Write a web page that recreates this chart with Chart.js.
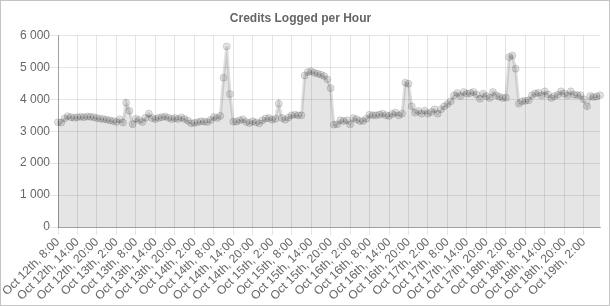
<!DOCTYPE html>
<html>
<head>
<meta charset="utf-8">
<script src="https://cdn.jsdelivr.net/npm/chart.js@4/dist/chart.umd.min.js"></script>
<style>
  html, body { margin: 0; padding: 0; background: #fff; }
  #wrap { position: relative; width: 608px; height: 304px; border: 1px solid #c4c4c4; }
  canvas { display: block; }
</style>
</head>
<body>
<div id="wrap"><canvas id="c" width="608" height="304"></canvas></div>
<script>
// Hourly time slots from Oct 12th 8:00 to Oct 19th 7:00
const days = ["Oct 12th", "Oct 13th", "Oct 14th", "Oct 15th", "Oct 16th", "Oct 17th", "Oct 18th", "Oct 19th"];
const startHour = 8;
const hourCount = 168;
const categories = [];
for (let i = 0; i < hourCount; i++) {
  const t = startHour + i;
  categories.push(days[Math.floor(t / 24)] + ", " + (t % 24) + ":00");
}

// Credits logged per hour
const credits = [
  3280, 3270, 3400, 3470, 3440, 3420, 3440, 3450, 3440, 3460,
  3450, 3440, 3410, 3390, 3380, 3360, 3340, 3320, 3290, 3370,
  3270, 3890, 3640, 3220, 3390, 3350, 3290, 3420, 3550, 3410,
  3380, 3420, 3440, 3460, 3420, 3380, 3410, 3380, 3430, 3380,
  3330, 3250, 3260, 3280, 3310, 3300, 3290, 3350, 3445, 3413,
  3476, 4675, 5656, 4164, 3299, 3299, 3340, 3372, 3290, 3257,
  3309, 3280, 3247, 3340, 3400, 3413, 3361, 3393, 3862, 3413,
  3361, 3430, 3497, 3518, 3497, 3497, 4748, 4853, 4874, 4832,
  4801, 4769, 4728, 4623, 4352, 3205, 3215, 3340, 3320, 3340,
  3215, 3413, 3372, 3320, 3320, 3393, 3518, 3497, 3497, 3520,
  3549, 3500, 3476, 3540, 3580, 3497, 3549, 4519, 4488, 3779,
  3580, 3633, 3549, 3643, 3549, 3600, 3685, 3549, 3685, 3779,
  3850, 3935, 4123, 4196, 4102, 4227, 4175, 4196, 4227, 4150,
  4018, 4175, 4100, 4039, 4227, 4123, 4080, 4039, 4050, 5322,
  5374, 4957, 3862, 3935, 3950, 3966, 4123, 4180, 4206, 4123,
  4248, 4150, 4039, 4100, 4144, 4248, 4180, 4123, 4248, 4144,
  4130, 4123, 3997, 3779, 4102, 4071, 4090, 4123
];

const yTicks = [0, 1000, 2000, 3000, 4000, 5000, 6000];

function fmt(v) {
  return String(v).replace(/\B(?=(\d{3})+(?!\d))/g, " ");
}

new Chart(document.getElementById("c"), {
  type: "line",
  data: {
    labels: categories,
    datasets: [{
      label: "Credits",
      data: credits,
      fill: true,
      backgroundColor: "rgba(0,0,0,0.1)",
      borderColor: "rgba(0,0,0,0.12)",
      borderWidth: 3,
      tension: 0,
      pointRadius: 3.5,
      pointBackgroundColor: "rgba(0,0,0,0.11)",
      pointBorderColor: "rgba(0,0,0,0.14)",
      pointBorderWidth: 1
    }]
  },
  options: {
    responsive: false,
    animation: false,
    devicePixelRatio: 1,
    layout: { padding: { left: 0, right: 9, top: 0, bottom: 0 } },
    plugins: {
      legend: { display: false },
      tooltip: { enabled: false },
      title: {
        display: true,
        text: "Credits Logged per Hour",
        color: "#666",
        font: { family: "'Liberation Sans', Arial, sans-serif", size: 12, weight: "bold" },
        padding: { top: 10, bottom: 10 }
      }
    },
    scales: {
      x: {
        type: "category",
        offset: false,
        afterFit: function (scale) { scale.height = 78; },
        grid: { color: "rgba(0,0,0,0.1)", tickLength: 8 },
        border: { color: "rgba(0,0,0,0.3)" },
        ticks: {
          autoSkip: false,
          minRotation: 45,
          maxRotation: 45,
          color: "#666",
          padding: 0,
          font: { family: "'Liberation Sans', Arial, sans-serif", size: 12 },
          callback: function (val, idx) {
            return idx % 6 === 0 ? this.getLabelForValue(val) : null;
          }
        }
      },
      y: {
        min: 0,
        max: 6000,
        afterFit: function (scale) { scale.width = 57; },
        afterBuildTicks: function (scale) {
          scale.ticks = yTicks.map(v => ({ value: v }));
        },
        grid: { color: "rgba(0,0,0,0.1)", tickLength: 8 },
        border: { color: "rgba(0,0,0,0.3)" },
        ticks: {
          color: "#666",
          padding: 0,
          font: { family: "'Liberation Sans', Arial, sans-serif", size: 12 },
          callback: function (v) { return fmt(v); }
        }
      }
    }
  }
});
</script>
</body>
</html>
